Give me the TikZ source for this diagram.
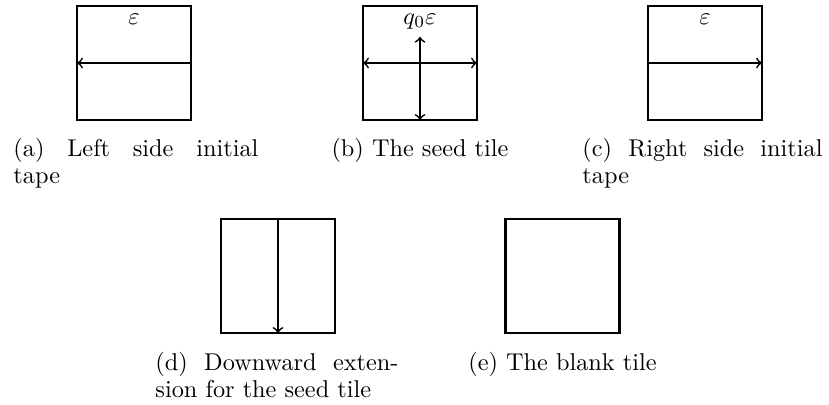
\documentclass[tikz,border=0pt]{standalone}
\begin{document}
\begin{tikzpicture}[x=0.41152pt,y=-0.41152pt,
  tile/.style={draw,line width=1pt,minimum size=46.9pt,inner sep=0pt,outer sep=0pt},
  arr/.style={line width=0.7pt},
  lbl/.style={anchor=north,inner sep=3pt},
  capl/.style={anchor=base west,inner sep=0pt},
  capc/.style={anchor=base,inner sep=0pt}]
\useasboundingbox (0,0) rectangle (829,405);
% tiles
\node[tile] (a) at (134,63) {};
\node[tile] (b) at (420,63) {};
\node[tile] (c) at (705,63) {};
\node[tile] (d) at (278,276) {};
\node[tile] (e) at (562.5,276) {};
% (a)
\node[lbl] (ea) at (a.north) {$\varepsilon$};
\draw[arr,->] (a.east) -- (a.west);
% (b)
\node[lbl] (qb) at (b.north) {$q_0\varepsilon$};
\draw[arr,<->] (b.west) -- (b.east);
\draw[arr,<->] (qb.south) -- (b.south);
% (c)
\node[lbl] (ec) at (c.north) {$\varepsilon$};
\draw[arr,->] (c.west) -- (c.east);
% (d)
\draw[arr,->] (d.north) -- (d.south);
% captions
\node[capl] (ca1) at (13,157) {\makebox[100.8pt][s]{(a) Left side initial}};
\node[capl] (ca2) at (13,183) {tape};
\node[capc] (cb) at (420,157) {(b) The seed tile};
\node[capl] (cc1) at (582,157) {\makebox[98.8pt][s]{(c) Right side initial}};
\node[capl] (cc2) at (582,183) {tape};
\node[capl] (cd1) at (155,370) {\makebox[100pt][s]{(d) Downward exten-}};
\node[capl] (cd2) at (155,397) {sion for the seed tile};
\node[capc] (ce) at (562.5,370) {(e) The blank tile};
\end{tikzpicture}
\end{document}
